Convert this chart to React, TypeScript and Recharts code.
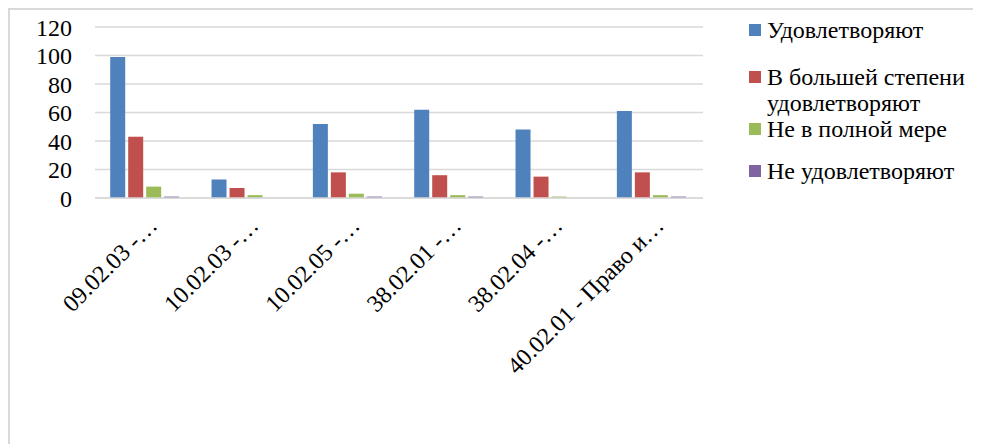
import React from 'react'
import { BarChart, Bar, XAxis, YAxis, CartesianGrid, Legend } from 'recharts'

const categories = ['09.02.03 -…', '10.02.03 -…', '10.02.05 -…', '38.02.01 -…', '38.02.04 -…', '40.02.01 - Право и…']
const satisfied = [99, 13, 52, 62, 48, 61]
const mostlySatisfied = [43, 7, 18, 16, 15, 18]
const partially = [8, 2, 3, 2, 1, 2]
const notSatisfied = [1, 0, 1, 1, 0, 1]
const yTicks = [0, 20, 40, 60, 80, 100, 120]

const seriesNames = ['Удовлетворяют', 'В большей степени удовлетворяют', 'Не в полной мере', 'Не удовлетворяют']
const COLORS = ['#4f81bd', '#c0504d', '#9bbb59', '#8064a2']
const FONT = '"Liberation Serif", "Times New Roman", serif'

const data = categories.map((name, i) => ({
  name,
  s1: satisfied[i],
  s2: mostlySatisfied[i],
  s3: partially[i],
  s4: notSatisfied[i],
}))

const legendTops = [7, 54, 106, 148]

function XTick(props: any) {
  const { x, y, payload } = props
  return (
    <g transform={`translate(${x + 13},${y + 29})`}>
      <text transform="rotate(-45)" textAnchor="end" style={{ fontSize: 24, fontFamily: FONT }} fill="#000">
        {payload.value}
      </text>
    </g>
  )
}

function LegendBox() {
  return (
    <div style={{ position: 'relative', width: 240, height: 200, fontFamily: FONT, fontSize: 24, color: '#000' }}>
      {seriesNames.map((n, i) => (
        <div key={n} style={{ position: 'absolute', left: 0, top: legendTops[i], lineHeight: '26px' }}>
          <div style={{ position: 'absolute', left: 0, top: 7, width: 12, height: 12, background: COLORS[i] }} />
          <div style={{ marginLeft: 18, width: 214 }}>{n}</div>
        </div>
      ))}
    </div>
  )
}

export default function App() {
  return (
    <div style={{ width: 971, height: 434, borderTop: '2px solid #d9d9d9', borderLeft: '2px solid #d9d9d9', position: 'relative', fontFamily: FONT }}>
      <BarChart
        width={971}
        height={434}
        data={data}
        margin={{ top: 17, right: 278, left: 0, bottom: 0 }}
        barCategoryGap="15%"
        barGap={3}
        style={{ fontFamily: FONT }}
      >
        <CartesianGrid horizontal vertical={false} stroke="#d9d9d9" strokeWidth={1.5} />
        <XAxis
          dataKey="name"
          interval={0}
          height={246}
          tickLine={false}
          tickSize={0}
          tickMargin={0}
          axisLine={{ stroke: '#d9d9d9', strokeWidth: 1.5 }}
          tick={<XTick />}
        />
        <YAxis
          width={85}
          domain={[0, 120]}
          ticks={yTicks}
          interval={0}
          axisLine={false}
          tickLine={false}
          tickSize={0}
          tickMargin={23}
          tick={{ fontSize: 24, fontFamily: FONT, fill: '#000' }}
        />
        <Legend
          layout="horizontal"
          align="center"
          verticalAlign="middle"
          content={<LegendBox />}
          wrapperStyle={{ left: 739, top: 0, width: 240, height: 200 }}
        />
        <Bar dataKey="s1" name={seriesNames[0]} fill={COLORS[0]} isAnimationActive={false} />
        <Bar dataKey="s2" name={seriesNames[1]} fill={COLORS[1]} isAnimationActive={false} />
        <Bar dataKey="s3" name={seriesNames[2]} fill={COLORS[2]} isAnimationActive={false} />
        <Bar dataKey="s4" name={seriesNames[3]} fill={COLORS[3]} isAnimationActive={false} />
      </BarChart>
    </div>
  )
}
